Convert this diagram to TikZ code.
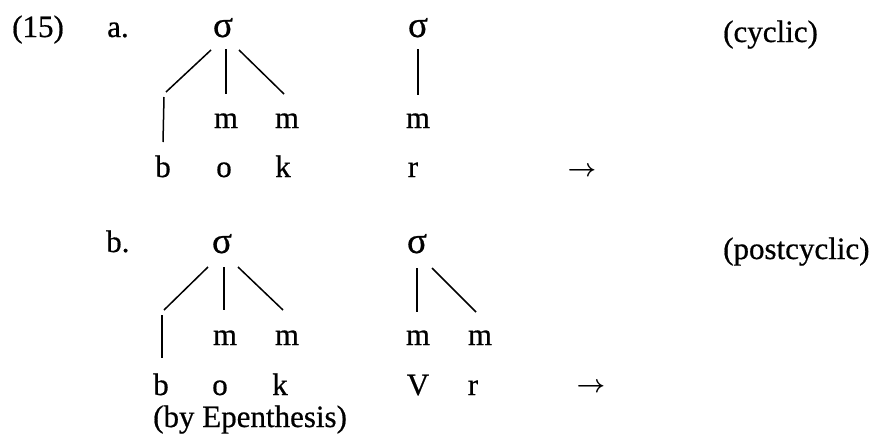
\documentclass[tikz,border=0pt]{standalone}
\usepackage{fontspec}
\setmainfont{Liberation Serif}[FakeBold=0.6]
\usetikzlibrary{calc}
\tikzset{
  seg/.style={inner sep=0pt, anchor=base, font=\fontsize{31}{37}\selectfont\addfontfeature{FakeBold=0.6}},
  sig/.style={inner sep=0pt, anchor=base, font=\fontsize{37}{40}\selectfont\addfontfeature{FakeBold=0.6}},
  lab/.style={inner sep=0pt, anchor=base west, font=\fontsize{31}{37}\selectfont\addfontfeature{FakeBold=0.6}},
  arr/.style={inner sep=0pt, anchor=center, font=\fontsize{30}{37}\selectfont\boldmath},
  assoc/.style={line width=1.5pt}
}
\begin{document}
\begin{tikzpicture}[x=1pt,y=-1pt]
\useasboundingbox[fill=white] (0,0) rectangle (872,434);
% ---- (a) ----
\node[lab] (num) at (12,37) {(15)};
\node[lab] (la) at (107,37) {a.};
\node[sig] (s1) at (223,37) {σ};
\node[sig] (s2) at (418,37) {σ};
\node[seg] (m1) at (226,128) {m};
\node[seg] (m2) at (287,128) {m};
\node[seg] (m3) at (418,128) {m};
\node[seg] (b1) at (163,177) {b};
\node[seg] (o1) at (224,177) {o};
\node[seg] (k1) at (283,177) {k};
\node[seg] (r1) at (413,177) {r};
\node[arr] (ar1) at (582,172) {$\rightarrow$};
\node[lab] (cyc) at (723,42) {(cyclic)};
\coordinate (c1) at (166,92);
\draw[assoc] ($(s1.base)+(-12,13)$) -- (c1);
\draw[assoc] ($(c1)+(-2,5)$) -- ($(b1.base)+(0,-35)$);
\draw[assoc] ($(s1.base)+(3,12)$) -- ($(m1.base)+(0,-34)$);
\draw[assoc] ($(s1.base)+(16,13)$) -- ($(m2.base)+(-3,-34)$);
\draw[assoc] ($(s2.base)+(0,12)$) -- ($(m3.base)+(0,-33)$);
% ---- (b) ----
\node[lab] (lb) at (106,252) {b.};
\node[sig] (s3) at (222,253) {σ};
\node[sig] (s4) at (417,253) {σ};
\node[seg] (m4) at (225,345) {m};
\node[seg] (m5) at (287,345) {m};
\node[seg] (m6) at (418,345) {m};
\node[seg] (m7) at (480,345) {m};
\node[seg] (b2) at (161,395) {b};
\node[seg] (o2) at (220,395) {o};
\node[seg] (k2) at (280,395) {k};
\node[seg] (v2) at (418,395) {V};
\node[seg] (r2) at (473,395) {r};
\node[arr] (ar2) at (591,388) {$\rightarrow$};
\node[lab] (post) at (723,259) {(postcyclic)};
\node[lab] (epen) at (153,427) {(by Epenthesis)};
\coordinate (c2) at (164,310);
\draw[assoc] ($(s3.base)+(-14,14)$) -- (c2);
\draw[assoc] ($(c2)+(-2,5)$) -- ($(b2.base)+(1,-37)$);
\draw[assoc] ($(s3.base)+(2,14)$) -- ($(m4.base)+(-1,-35)$);
\draw[assoc] ($(s3.base)+(16,14)$) -- ($(m5.base)+(-4,-35)$);
\draw[assoc] ($(s4.base)+(0,15)$) -- ($(m6.base)+(-1,-33)$);
\draw[assoc] ($(s4.base)+(15,15)$) -- ($(m7.base)+(-4,-33)$);
\end{tikzpicture}
\end{document}
